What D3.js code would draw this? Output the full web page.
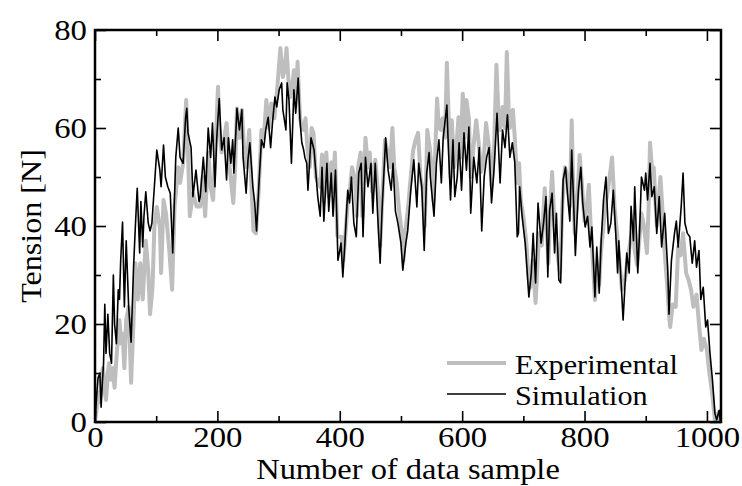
<!DOCTYPE html>
<html>
<head>
  <title>Tension</title>
  <script src="https://d3js.org/d3.v7.min.js"></script>
  <style type="text/css">
    body {
      margin: 0;
      background: white;
    }
    svg text {
      font-family: "Liberation Serif", "Times New Roman", serif;
      fill: black;
    }
  </style>
</head>
<body>
  <div id="chart"></div>

  <script type="text/javascript">
    // experimental data (sample number, tension)
    var expSamples = [0, 3, 5, 8, 10, 13, 16, 18, 21, 23, 26, 29, 32, 36, 40, 43, 45, 48, 51, 55, 59, 63, 66, 70, 74, 78, 83, 87, 90, 94, 97, 101, 106, 108, 112, 116, 121, 126, 130, 136, 139, 144, 149, 152, 155, 160, 166, 172, 176, 180, 185, 189, 193, 197, 201, 203, 207, 211, 215, 220, 226, 229, 232, 236, 240, 244, 248, 252, 256, 259, 263, 267, 272, 276, 280, 284, 288, 293, 298, 303, 307, 310, 313, 316, 319, 322, 325, 328, 331, 335, 338, 341, 344, 347, 351, 354, 357, 361, 364, 368, 371, 374, 378, 382, 386, 389, 392, 396, 399, 403, 406, 409, 413, 417, 420, 425, 428, 430, 434, 437, 442, 446, 449, 453, 458, 463, 466, 470, 474, 478, 482, 486, 489, 493, 497, 501, 504, 506, 511, 516, 520, 524, 528, 532, 536, 539, 543, 547, 550, 553, 556, 559, 562, 565, 568, 572, 575, 578, 581, 583, 587, 590, 594, 597, 601, 604, 607, 611, 614, 617, 620, 623, 627, 631, 635, 639, 642, 645, 648, 652, 656, 659, 662, 666, 670, 673, 676, 678, 683, 686, 690, 693, 696, 700, 705, 708, 711, 715, 720, 723, 726, 730, 735, 738, 741, 744, 747, 751, 754, 757, 760, 764, 768, 772, 776, 779, 781, 784, 788, 792, 796, 800, 804, 807, 810, 814, 817, 821, 824, 827, 831, 835, 839, 845, 849, 853, 857, 861, 866, 870, 875, 879, 882, 886, 890, 893, 897, 902, 905, 907, 910, 913, 918, 921, 924, 928, 931, 935, 938, 940, 944, 949, 953, 957, 961, 966, 970, 974, 978, 983, 987, 991, 995, 1000, 1004, 1008, 1013, 1016, 1019, 1022];
    var expValues = [0, 3, 6, 4, 9, 11, 6, 4.5, 10, 12, 8.6, 11, 7, 14.7, 20.8, 16, 18, 11, 20.8, 23.5, 8, 20.8, 32.4, 25, 32.4, 25, 37, 31, 22, 27.5, 39.8, 43.9, 39.8, 30.4, 45.3, 42.6, 35.7, 27, 43.9, 52, 48.8, 52.8, 65.7, 55, 42, 46.7, 44, 44, 50, 42, 55, 48, 45.3, 56, 68.4, 60, 55, 58, 61, 52, 44.7, 52, 64, 58, 63.7, 55, 52, 59.6, 47, 39, 38.5, 46, 59.6, 58, 65.7, 60, 65, 62, 68.4, 76.3, 70.4, 72, 76.3, 70, 66.3, 68, 71.8, 66, 73.5, 62.2, 60, 59.6, 62, 56, 52, 60, 59, 50, 49, 48, 54.6, 45, 55, 46, 53, 47, 55, 38, 37.8, 37.8, 33, 38, 44.7, 48, 52, 49.4, 42, 52, 55, 42, 58, 52, 55, 47, 53.5, 46, 36, 47, 57.6, 55, 52, 60, 52, 48.8, 43, 39, 33, 37.8, 43, 50, 55.5, 57.6, 59, 50, 47, 40, 59.6, 56, 52, 45, 55, 66, 60, 59.6, 62, 58, 73.3, 62, 50, 61.6, 52, 55, 62.2, 54, 67, 58, 65.7, 62, 50, 54, 58, 61.6, 57, 51, 53, 61, 58, 55, 48, 55, 72.9, 64, 59.6, 64.3, 60, 75.5, 64, 60, 63.7, 58, 48.8, 52.8, 45, 42, 36.5, 30, 27.5, 33, 24.3, 32, 38.5, 36, 47.7, 40, 32.4, 44, 51, 40, 36.5, 33, 30.4, 45, 52, 50, 44, 61.6, 50, 38.5, 45, 54.5, 48, 41, 44, 48.4, 40, 32, 24.9, 32, 28, 35, 40, 45, 48, 54, 44, 38.5, 33, 27, 29, 33, 37, 40, 35, 32, 38, 42.6, 40, 34.5, 45, 57, 52, 52, 40, 45, 50, 42, 34.5, 28, 22, 19.4, 24, 23.5, 35.7, 34, 38.5, 30.4, 29, 27, 23.5, 26, 20, 14.7, 17, 14.7, 10, 6.5, 0.4, 1, 2, 0];

    // simulation data (sample number, tension)
    var simSamples = [0, 3, 5, 8, 10, 12, 14, 16, 18, 21, 24, 27, 30, 32, 35, 38, 40, 42, 45, 48, 51, 55, 59, 63, 66, 69, 73, 75, 78, 80, 83, 87, 90, 93, 97, 101, 106, 108, 112, 115, 119, 123, 127, 132, 136, 139, 144, 148, 150, 152, 157, 160, 165, 170, 172, 177, 181, 185, 189, 192, 196, 199, 203, 207, 211, 215, 218, 222, 225, 227, 232, 236, 240, 242, 247, 250, 253, 258, 261, 264, 268, 272, 276, 279, 283, 287, 290, 294, 297, 301, 305, 307, 312, 314, 317, 321, 325, 328, 332, 335, 338, 341, 343, 346, 348, 353, 358, 364, 368, 371, 374, 379, 382, 386, 389, 393, 397, 400, 402, 405, 408, 413, 416, 419, 423, 427, 431, 435, 438, 442, 446, 451, 454, 458, 462, 466, 469, 475, 479, 484, 487, 491, 495, 500, 503, 508, 511, 516, 521, 526, 529, 534, 538, 542, 546, 548, 554, 558, 562, 566, 569, 575, 577, 581, 585, 588, 592, 595, 599, 603, 607, 611, 614, 619, 624, 628, 632, 636, 640, 644, 648, 652, 657, 662, 666, 670, 674, 678, 682, 686, 690, 692, 694, 698, 703, 705, 709, 713, 716, 720, 724, 729, 733, 737, 740, 743, 747, 751, 754, 758, 761, 765, 769, 772, 776, 779, 782, 785, 790, 794, 797, 801, 805, 809, 812, 817, 820, 824, 827, 831, 835, 839, 843, 847, 851, 854, 856, 860, 863, 869, 873, 876, 880, 882, 887, 890, 893, 898, 900, 903, 907, 910, 914, 918, 922, 926, 931, 936, 938, 942, 947, 950, 953, 958, 961, 964, 968, 972, 976, 980, 983, 987, 990, 994, 998, 1001, 1005, 1009, 1013, 1016, 1020, 1022];
    var simValues = [0, 6, 9, 10, 3, 8, 12, 24, 14, 22, 14, 12, 30, 20, 16, 27, 25, 33, 40.8, 23.5, 37, 23.5, 16.3, 31.6, 40, 47.7, 34.5, 45, 35.7, 42, 47, 40.6, 39, 40.6, 48, 55.5, 51.4, 48, 56.5, 50, 48, 46.7, 34.5, 54, 60, 54, 52.8, 62, 64, 59, 56, 46, 51.4, 45, 46, 54, 47, 60, 54, 61, 48, 58, 66, 55.5, 58, 49.4, 58, 52.8, 57.6, 50.8, 64, 59.6, 63.7, 54, 46.7, 53.5, 57, 48, 44.7, 39, 48.8, 57.6, 56, 59.6, 62.2, 56, 61, 66.3, 64.3, 67.8, 69.2, 63.7, 59.6, 69.2, 65.7, 52.8, 67.8, 63, 70.2, 61.6, 57, 55.5, 54, 52.8, 47.3, 58, 55.5, 46, 42, 52, 41, 52.8, 43, 50.8, 42, 51.4, 33, 35, 36.5, 29.6, 35.7, 47.3, 44.7, 50, 40.6, 37.8, 50.8, 52.8, 37.8, 54, 48, 52.8, 42.6, 52.8, 42, 32.4, 43, 58, 51.4, 47.3, 52.8, 43, 40.6, 36.5, 31, 36.5, 39, 47.3, 53.5, 43.9, 52.8, 48, 35, 50.8, 55, 50, 42, 52.8, 57.6, 48.8, 58, 64.7, 57.6, 45.3, 57.6, 46, 50, 57, 47.3, 59, 51.4, 60.2, 42.6, 54, 48.8, 56, 39, 50, 54, 56, 44.7, 51.4, 63, 48.8, 59.6, 56, 62.7, 54, 57, 53, 37.8, 38.5, 48, 42, 36.5, 33, 25.5, 30.4, 38.5, 28.4, 44.7, 36.5, 40.6, 46, 29.6, 43.3, 46.7, 34.5, 42.6, 29, 28.4, 49.4, 52, 46.7, 41, 55.5, 45.3, 34, 47.3, 52, 44.7, 39.8, 42, 35.7, 39.8, 25.5, 35.7, 26.3, 36.5, 45.3, 50, 38.5, 40.6, 47.3, 38.5, 30.4, 37, 28, 20.8, 34.5, 30.4, 44, 37, 48, 30.4, 39, 50, 47.3, 50.8, 45.3, 52.8, 46, 48, 38.5, 46, 35.7, 42.6, 31, 22, 33, 38.5, 41, 35.7, 44, 50.8, 40.6, 38.5, 37.8, 32.4, 37, 31.6, 35, 25, 27.5, 19.4, 20.8, 14, 8.6, 1.8, 0.4, 2.4, 0];

    var xMajorTicks = [0, 200, 400, 600, 800, 1000];
    var xMinorTicks = [100, 300, 500, 700, 900];
    var yMajorTicks = [0, 20, 40, 60, 80];
    var yMinorTicks = [10, 30, 50, 70];

    var seriesNames = ["Experimental", "Simulation"];

    var width = 742, height = 486;
    var margin = { top: 30, right: 21, bottom: 64, left: 95 };
    var plotW = width - margin.left - margin.right;
    var plotH = height - margin.top - margin.bottom;

    var svg = d3.select("#chart").append("svg")
      .attr("width", width)
      .attr("height", height);

    var x = d3.scaleLinear().domain([0, 1023]).range([0, plotW]);
    var y = d3.scaleLinear().domain([0, 80]).range([plotH, 0]);

    var g = svg.append("g")
      .attr("transform", "translate(" + margin.left + "," + margin.top + ")");

    g.append("clipPath").attr("id", "clip")
      .append("rect").attr("width", plotW).attr("height", plotH);

    function pts(xs, ys) {
      return xs.map(function (d, i) { return [d, ys[i]]; });
    }

    var line = d3.line()
      .x(function (d) { return x(d[0]); })
      .y(function (d) { return y(d[1]); });

    // experimental (thick grey) underneath, simulation (thin black) on top
    g.append("path")
      .datum(pts(expSamples, expValues))
      .attr("clip-path", "url(#clip)")
      .attr("fill", "none")
      .attr("stroke", "#bebebe")
      .attr("stroke-width", 4)
      .attr("stroke-linejoin", "round")
      .attr("d", line);

    g.append("path")
      .datum(pts(simSamples, simValues))
      .attr("clip-path", "url(#clip)")
      .attr("fill", "none")
      .attr("stroke", "black")
      .attr("stroke-width", 1.6)
      .attr("stroke-linejoin", "round")
      .attr("d", line);

    // axes, ticks pointing inward on all four sides
    function styleAxis(sel) {
      sel.select(".domain").remove();
      sel.selectAll(".tick line").attr("stroke", "black").attr("stroke-width", 1.6);
      // the reference type is a bit wider than Liberation Serif
      sel.selectAll("text")
        .style("font-size", "28.5px")
        .attr("fill", "black")
        .attr("transform", "scale(1.15,1)");
    }

    g.append("g")
      .attr("transform", "translate(0," + plotH + ")")
      .call(d3.axisBottom(x).tickValues(xMajorTicks).tickSizeInner(-11).tickPadding(5).tickFormat(d3.format("d")))
      .call(styleAxis);
    g.append("g")
      .attr("transform", "translate(0," + plotH + ")")
      .call(d3.axisBottom(x).tickValues(xMinorTicks).tickSizeInner(-6).tickFormat(""))
      .call(styleAxis);
    g.append("g")
      .call(d3.axisTop(x).tickValues(xMajorTicks).tickSizeInner(-11).tickFormat(""))
      .call(styleAxis);
    g.append("g")
      .call(d3.axisTop(x).tickValues(xMinorTicks).tickSizeInner(-6).tickFormat(""))
      .call(styleAxis);

    g.append("g")
      .call(d3.axisLeft(y).tickValues(yMajorTicks).tickSizeInner(-11).tickPadding(7).tickFormat(d3.format("d")))
      .call(styleAxis);
    g.append("g")
      .call(d3.axisLeft(y).tickValues(yMinorTicks).tickSizeInner(-6).tickFormat(""))
      .call(styleAxis);
    g.append("g")
      .attr("transform", "translate(" + plotW + ",0)")
      .call(d3.axisRight(y).tickValues(yMajorTicks).tickSizeInner(-11).tickFormat(""))
      .call(styleAxis);
    g.append("g")
      .attr("transform", "translate(" + plotW + ",0)")
      .call(d3.axisRight(y).tickValues(yMinorTicks).tickSizeInner(-6).tickFormat(""))
      .call(styleAxis);

    // frame
    g.append("rect")
      .attr("width", plotW)
      .attr("height", plotH)
      .attr("fill", "none")
      .attr("stroke", "black")
      .attr("stroke-width", 2.5);

    // axis titles
    svg.append("text")
      .attr("transform", "translate(" + (margin.left + plotW / 2) + ",479) scale(1.1,1)")
      .attr("text-anchor", "middle")
      .style("font-size", "29.5px")
      .text("Number of data sample");

    svg.append("text")
      .attr("transform", "translate(41," + (margin.top + plotH / 2) + ") rotate(-90) scale(1.07,1)")
      .attr("text-anchor", "middle")
      .style("font-size", "30px")
      .text("Tension [N]");

    // legend
    var legend = svg.append("g");
    var legendY = [363, 394];
    var legendStroke = ["#bebebe", "black"];
    var legendWidth = [4, 1.6];
    seriesNames.forEach(function (name, i) {
      legend.append("line")
        .attr("x1", 447).attr("x2", 506)
        .attr("y1", legendY[i]).attr("y2", legendY[i])
        .attr("stroke", legendStroke[i])
        .attr("stroke-width", legendWidth[i]);
      legend.append("text")
        .attr("transform", "translate(515," + (legendY[i] + 11) + ") scale(1.12,1)")
        .style("font-size", "27px")
        .text(name);
    });
  </script>
</body>
</html>
